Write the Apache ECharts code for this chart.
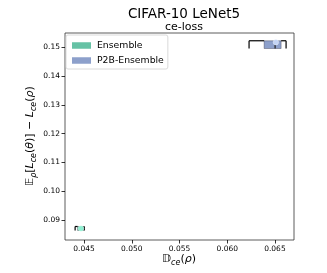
<!DOCTYPE html>
<html><head><meta charset="utf-8">
<script src="https://cdn.jsdelivr.net/npm/echarts@6/dist/echarts.min.js"></script>
<style>html,body{margin:0;padding:0;background:#fff}#c{width:327px;height:273px}</style>
</head><body><div id="c"></div>
<script>
// Series names
var seriesNames = ['Ensemble', 'P2B-Ensemble'];
var seriesColors = ['#66c2a5', '#8da0cb'];
var pointColors = ['#8ff0d2', '#c4d4f4'];
// x statistics: [whisker low, q1, median, q3, whisker high]
var ensembleX = [0.04406, 0.04432, 0.04478, 0.04495, 0.04502];
var p2bX = [0.06229, 0.06387, 0.06502, 0.06565, 0.06617];
// y range of box: [low, high]
var ensembleY = [0.0863, 0.0877];
var p2bY = [0.1496, 0.1523];
// mean points [x, y]
var ensembleMean = [0.04468, 0.0870];
var p2bMean = [0.0651, 0.1518];
// tick values
var xTicks = [0.045, 0.050, 0.055, 0.060, 0.065];
var yTicks = [0.09, 0.10, 0.11, 0.12, 0.13, 0.14, 0.15];

var chart = echarts.init(document.getElementById('c'), null, {renderer: 'canvas'});

function makeRender(color, mean, pcolor) {
  return function (params, api) {
    var w0 = api.value(0), q1 = api.value(1), md = api.value(2), q3 = api.value(3), w1 = api.value(4);
    var ylo = api.value(5), yhi = api.value(6);
    var a = api.coord([q1, yhi]), b = api.coord([q3, ylo]);
    var pl = api.coord([w0, yhi]), pr = api.coord([w1, yhi]);
    var plb = api.coord([w0, ylo]), prb = api.coord([w1, ylo]);
    var m1 = api.coord([md, yhi]), m2 = api.coord([md, ylo]);
    var pt = api.coord(mean);
    var ls = {stroke: '#000', lineWidth: 1.2};
    return {type: 'group', children: [
      {type: 'rect', shape: {x: a[0], y: a[1], width: b[0] - a[0], height: b[1] - a[1]}, style: {fill: color, stroke: 'rgba(40,40,60,0.6)', lineWidth: 0.6}},
      {type: 'line', shape: {x1: pl[0], y1: pl[1], x2: a[0], y2: pl[1]}, style: ls},
      {type: 'line', shape: {x1: b[0], y1: pr[1], x2: pr[0], y2: pr[1]}, style: ls},
      {type: 'line', shape: {x1: pl[0], y1: pl[1], x2: plb[0], y2: plb[1]}, style: ls},
      {type: 'line', shape: {x1: pr[0], y1: pr[1], x2: prb[0], y2: prb[1]}, style: ls},
      {type: 'line', shape: {x1: m1[0], y1: m1[1], x2: m2[0], y2: m2[1]}, style: {stroke: '#222', lineWidth: 1.2}},
      {type: 'circle', shape: {cx: pt[0], cy: pt[1], r: 2.8}, style: {fill: pcolor, stroke: 'rgba(255,255,255,0.6)', lineWidth: 0.5}}
    ]};
  };
}

var boxData = [ensembleX.concat(ensembleY), p2bX.concat(p2bY)];
var means = [ensembleMean, p2bMean];

var series = [];
for (var i = 0; i < 2; i++) {
  series.push({
    name: seriesNames[i], type: 'custom', renderItem: makeRender(seriesColors[i], means[i], pointColors[i]),
    itemStyle: {color: seriesColors[i]},
    encode: {x: [0, 1, 2, 3, 4], y: [5, 6]},
    data: [boxData[i]], silent: true, z: 2
  });
}

var tickFont = {fontFamily: 'DejaVu Sans', fontSize: 7.5, color: '#000'};

chart.setOption({
  animation: false,
  backgroundColor: '#fff',
  title: [
    {text: 'CIFAR-10 LeNet5', left: 179, top: 2, textAlign: 'center', textStyle: {fontFamily: 'DejaVu Sans', fontSize: 13.5, fontWeight: 'normal', color: '#000'}},
    {text: 'ce-loss', left: 179, top: 17, textAlign: 'center', textStyle: {fontFamily: 'DejaVu Sans', fontSize: 11, fontWeight: 'normal', color: '#000'}}
  ],
  legend: {
    data: [{name: 'Ensemble', icon: 'rect'}, {name: 'P2B-Ensemble', icon: 'rect'}],
    orient: 'vertical', left: 66, top: 35, itemWidth: 19, itemHeight: 6.5, itemGap: 6,
    padding: [6, 4, 4, 6], borderColor: '#d0d0d0', borderWidth: 0.8, borderRadius: 2,
    textStyle: {fontFamily: 'DejaVu Sans', fontSize: 9.3, color: '#000', padding: [0, 0, 0, 1]}
  },
  grid: {left: 65, right: 33, top: 33, bottom: 33, show: true, borderColor: '#333', borderWidth: 0.8, backgroundColor: 'transparent'},
  xAxis: {
    type: 'value', min: 0.043, max: 0.067,
    splitLine: {show: false},
    axisLine: {show: false},
    axisTick: {show: true, length: 3.5, lineStyle: {color: '#000', width: 0.8}, customValues: xTicks},
    axisLabel: {customValues: xTicks, formatter: function (v) { return v.toFixed(3); }, margin: 5, ...tickFont}
  },
  yAxis: {
    type: 'value', min: 0.083, max: 0.155,
    splitLine: {show: false},
    axisLine: {show: false},
    axisTick: {show: true, length: 3.5, lineStyle: {color: '#000', width: 0.8}, customValues: yTicks},
    axisLabel: {customValues: yTicks, formatter: function (v) { return v.toFixed(2); }, margin: 5, ...tickFont}
  },
  graphic: [
    {type: 'text', x: 179, y: 259, style: {
      text: '{m|𝔻}{s|ce}{m|(}{i|ρ}{m|)}', align: 'center', verticalAlign: 'middle',
      rich: {
        m: {fontFamily: 'DejaVu Sans', fontSize: 11, fill: '#000', verticalAlign: 'middle', lineHeight: 16},
        i: {fontFamily: 'DejaVu Sans', fontStyle: 'italic', fontSize: 11, fill: '#000', verticalAlign: 'middle', lineHeight: 16},
        s: {fontFamily: 'DejaVu Sans', fontStyle: 'italic', fontSize: 8, fill: '#000', verticalAlign: 'bottom', lineHeight: 16}
      }}},
    {type: 'text', x: 30, y: 136, rotation: Math.PI / 2, style: {
      text: '{m|𝔼}{s|ρ}{m|[}{i|L}{s|ce}{m|(}{i|θ}{m|)] − }{i|L}{s|ce}{m|(}{i|ρ}{m|)}', align: 'center', verticalAlign: 'middle',
      rich: {
        m: {fontFamily: 'DejaVu Sans', fontSize: 11, fill: '#000', verticalAlign: 'middle', lineHeight: 16},
        i: {fontFamily: 'DejaVu Sans', fontStyle: 'italic', fontSize: 11, fill: '#000', verticalAlign: 'middle', lineHeight: 16},
        s: {fontFamily: 'DejaVu Sans', fontStyle: 'italic', fontSize: 8, fill: '#000', verticalAlign: 'bottom', lineHeight: 16}
      }}}
  ],
  series: series
});
</script></body></html>
